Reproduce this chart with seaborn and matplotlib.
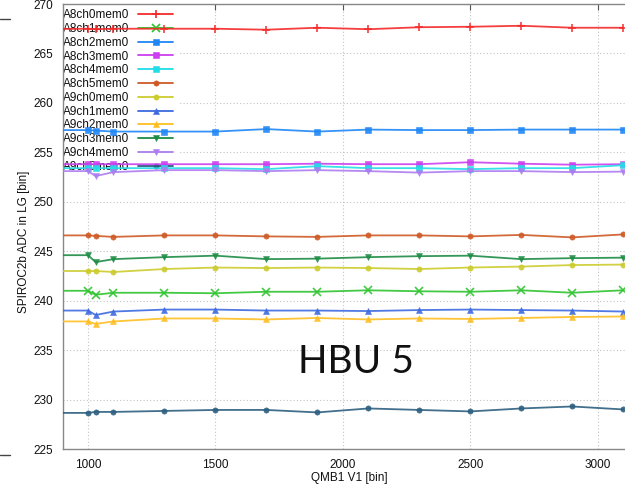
import matplotlib
matplotlib.use("Agg")
import matplotlib.pyplot as plt
import seaborn as sns
import pandas as pd
from matplotlib.lines import Line2D

# ---- data ----
qmb = [800, 1000, 1030, 1100, 1300, 1500, 1700, 1900, 2100, 2300, 2500, 2700, 2900, 3100]

names = ["A8ch0mem0", "A8ch1mem0", "A8ch2mem0", "A8ch3mem0", "A8ch4mem0", "A8ch5mem0",
         "A9ch0mem0", "A9ch1mem0", "A9ch2mem0", "A9ch3mem0", "A9ch4mem0", "A9ch5mem0"]

a8ch0 = [267.45, 267.5, 267.45, 267.5, 267.5, 267.5, 267.4, 267.6, 267.45, 267.65, 267.7, 267.8, 267.6, 267.6]
a8ch1 = [241.0, 241.0, 240.6, 240.8, 240.8, 240.75, 240.9, 240.9, 241.05, 240.95, 240.9, 241.05, 240.8, 241.05]
a8ch2 = [257.25, 257.25, 257.2, 257.1, 257.1, 257.1, 257.35, 257.1, 257.3, 257.25, 257.25, 257.3, 257.3, 257.3]
a8ch3 = [253.8, 253.8, 253.8, 253.8, 253.8, 253.8, 253.8, 253.85, 253.8, 253.8, 254.0, 253.85, 253.75, 253.8]
a8ch4 = [253.4, 253.4, 253.4, 253.4, 253.4, 253.4, 253.3, 253.6, 253.4, 253.4, 253.3, 253.4, 253.4, 253.7]
a8ch5 = [246.6, 246.6, 246.55, 246.45, 246.6, 246.6, 246.5, 246.45, 246.6, 246.6, 246.5, 246.65, 246.4, 246.7]
a9ch0 = [243.0, 243.0, 243.0, 242.9, 243.2, 243.35, 243.3, 243.35, 243.3, 243.2, 243.35, 243.45, 243.6, 243.65]
a9ch1 = [239.0, 239.0, 238.55, 238.9, 239.1, 239.1, 239.0, 239.0, 238.95, 239.05, 239.1, 239.05, 239.0, 238.9]
a9ch2 = [237.9, 237.9, 237.65, 237.9, 238.2, 238.2, 238.1, 238.25, 238.1, 238.2, 238.15, 238.25, 238.35, 238.4]
a9ch3 = [244.6, 244.6, 243.9, 244.2, 244.4, 244.55, 244.2, 244.25, 244.4, 244.5, 244.55, 244.2, 244.3, 244.35]
a9ch4 = [253.1, 253.1, 252.6, 253.0, 253.2, 253.2, 253.1, 253.2, 253.1, 252.95, 253.1, 253.1, 253.0, 253.05]
a9ch5 = [228.65, 228.65, 228.75, 228.75, 228.85, 228.95, 228.95, 228.7, 229.1, 228.95, 228.8, 229.1, 229.3, 229.0]

series = [a8ch0, a8ch1, a8ch2, a8ch3, a8ch4, a8ch5, a9ch0, a9ch1, a9ch2, a9ch3, a9ch4, a9ch5]

x_ticks = [1000, 1500, 2000, 2500, 3000]
y_ticks = [225, 230, 235, 240, 245, 250, 255, 260, 265, 270]

# ---- styles ----
colors = ["#f42a2a", "#2fc42f", "#1f86f5", "#cc3ef0", "#22dde6", "#cf5a26",
          "#cccc2e", "#3d6ae0", "#ffbe22", "#1e8c46", "#ad7cf0", "#2d5f80"]
markers = ["+", "x", "s", "s", "s", "o", "o", "^", "^", "v", "v", "o"]


def msize(m):
    return 6 if m in ("+", "x") else 3.8


def mew(m):
    return 1.2 if m in ("+", "x") else 0.4


df = pd.concat([pd.DataFrame({"qmb": qmb, "adc": v, "ch": n}) for n, v in zip(names, series)],
               ignore_index=True)

sns.set_style("white")
plt.rcParams["font.family"] = ["Liberation Sans", "DejaVu Sans"]

fig = plt.figure(figsize=(6.25, 4.98), dpi=100)
# axes: left edge at x=62.5px, top at y=4px, bottom at y=449px, right off-figure
ax = fig.add_axes([62.5 / 625, (498 - 449) / 498, (636 - 62.5) / 625, 445 / 498])

for n, c, m in zip(names, colors, markers):
    sub = df[df["ch"] == n]
    sns.lineplot(data=sub, x="qmb", y="adc", ax=ax, color=c, marker=m,
                 markersize=msize(m), markeredgecolor=c, markeredgewidth=mew(m),
                 linewidth=1.3, legend=False, zorder=3, alpha=0.9)

ax.set_xlim(900, 3150)
ax.set_ylim(225, 270)
ax.set_xticks(x_ticks)
ax.set_yticks(y_ticks)
ax.tick_params(direction="in", length=4, width=0.8, color="#555555",
               labelsize=8.5, labelcolor="#111111", top=True, right=True, pad=7)
ax.grid(True, color="#c4c4c4", linestyle=(0, (1, 2)), linewidth=0.8)
ax.set_axisbelow(True)
for s in ax.spines.values():
    s.set_color("#888888")
    s.set_linewidth(1.0)

ax.set_xlabel("QMB1 V1 [bin]", fontsize=8.5, color="#111111", labelpad=1)
ax.set_ylabel("SPIROC2b ADC in LG [bin]", fontsize=8.5, color="#111111")
ax.yaxis.set_label_coords(-0.057, 0.465)

handles = [Line2D([], [], color=c, marker=m, markersize=msize(m),
                  markeredgecolor=c, markeredgewidth=mew(m), linewidth=1.3)
           for c, m in zip(colors, markers)]
leg = ax.legend(handles, names, loc="upper left", bbox_to_anchor=(-0.008, 1.0),
                markerfirst=False, frameon=True, facecolor="white", edgecolor="none",
                framealpha=1.0, fontsize=8.5, borderaxespad=0.0, borderpad=0.45,
                labelspacing=0.15, handlelength=2.9, handletextpad=0.75, fancybox=False)
for t in leg.get_texts():
    t.set_color("#111111")
leg.set_zorder(1)

fig.text(356 / 625, 1 - 362 / 498, "HBU 5", fontsize=28, ha="center", va="center",
         family=["Lato", "DejaVu Sans"], color="#111111")

# stray tick marks of neighbouring panel at the left border
fig.add_artist(Line2D([0, 10 / 625], [1 - 19 / 498] * 2, color="#444444", linewidth=1.0))
fig.add_artist(Line2D([0, 10 / 625], [1 - 455 / 498] * 2, color="#444444", linewidth=1.0))

fig.savefig("out.png", dpi=100)
